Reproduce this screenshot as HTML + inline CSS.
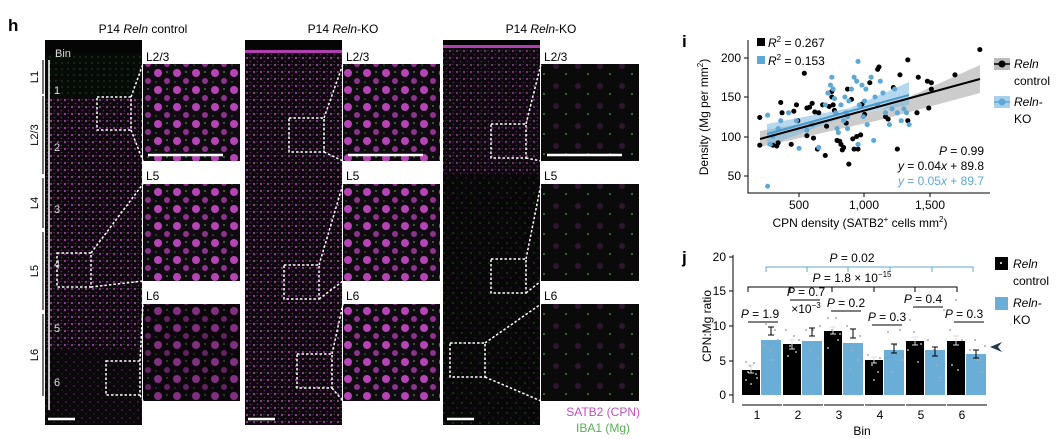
<!DOCTYPE html>
<html><head><meta charset="utf-8"><style>
html,body{margin:0;padding:0;background:#fff;}
svg{display:block;font-family:"Liberation Sans",sans-serif;}
</style></head><body>
<svg width="1058" height="439" viewBox="0 0 1058 439" xmlns="http://www.w3.org/2000/svg">
<defs>
<pattern id="pb" width="7" height="7" patternUnits="userSpaceOnUse">
<rect width="7" height="7" fill="#0e080e"/>
<circle cx="2" cy="2" r="1.1" fill="#a03ca0"/>
<circle cx="5.5" cy="5.5" r="0.8" fill="#702c70"/>
<circle cx="5" cy="1.5" r="0.5" fill="#3c8c3c"/>
</pattern>
<pattern id="pbd" width="8" height="8" patternUnits="userSpaceOnUse">
<rect width="8" height="8" fill="#0a080a"/>
<circle cx="2" cy="2" r="0.9" fill="#5a245a"/>
<circle cx="6" cy="6" r="0.5" fill="#3a7a3a"/>
</pattern>
<pattern id="pk" width="9" height="10" patternUnits="userSpaceOnUse">
<rect width="9" height="10" fill="#080808"/>
<circle cx="3" cy="3" r="0.6" fill="#3a8a3a"/>
<circle cx="7" cy="8" r="0.7" fill="#4a224a"/>
</pattern>
<pattern id="pg" width="6" height="6" patternUnits="userSpaceOnUse">
<rect width="6" height="6" fill="#070b07"/>
<circle cx="2" cy="3" r="0.6" fill="#2f6f2f"/>
</pattern>
<pattern id="pi" width="19" height="17" patternUnits="userSpaceOnUse">
<rect width="19" height="17" fill="#120a12"/>
<circle cx="6" cy="5" r="4" fill="#b544b5"/>
<circle cx="15" cy="13" r="3" fill="#8a348a"/>
<circle cx="15" cy="4" r="0.9" fill="#3a9a3a"/>
<circle cx="4" cy="14" r="0.8" fill="#2f7f2f"/>
</pattern>
<pattern id="pik" width="22" height="20" patternUnits="userSpaceOnUse">
<rect width="22" height="20" fill="#0a0a0a"/>
<circle cx="6" cy="6" r="3" fill="#2e162e"/>
<circle cx="16" cy="14" r="1" fill="#3a8a3a"/>
</pattern>
</defs>

<text x="8" y="31" font-size="17" font-weight="bold">h</text>
<text x="143" y="33" font-size="12" text-anchor="middle">P14 <tspan font-style="italic">Reln</tspan> control</text>
<text x="343" y="33" font-size="12" text-anchor="middle">P14 <tspan font-style="italic">Reln</tspan>-KO</text>
<text x="541" y="33" font-size="12" text-anchor="middle">P14 <tspan font-style="italic">Reln</tspan>-KO</text>

<rect x="45" y="40" width="97" height="385" fill="url(#pb)"/>
<rect x="45" y="40" width="97" height="58" fill="url(#pg)"/>
<rect x="45" y="40" width="97" height="14" fill="#050505"/>
<rect x="45" y="350" width="97" height="75" fill="url(#pbd)"/>
<rect x="245" y="40" width="97" height="385" fill="url(#pb)"/>
<rect x="245" y="40" width="97" height="10" fill="#050505"/>
<rect x="245" y="50" width="97" height="3" fill="#b040b0"/>
<rect x="443" y="40" width="97" height="385" fill="url(#pk)"/>
<rect x="443" y="40" width="97" height="135" fill="url(#pb)" opacity="0.8"/>
<rect x="443" y="40" width="97" height="5" fill="#050505"/>
<rect x="443" y="45" width="97" height="3" fill="#b040b0"/>

<g font-size="12">
<text x="146" y="61">L2/3</text><text x="146" y="180">L5</text><text x="146" y="300">L6</text>
<text x="346" y="61">L2/3</text><text x="346" y="180">L5</text><text x="346" y="300">L6</text>
<text x="544" y="61">L2/3</text><text x="544" y="180">L5</text><text x="544" y="300">L6</text>
</g>
<rect x="143" y="64" width="97" height="97" fill="url(#pi)"/>
<rect x="143" y="184" width="97" height="97" fill="url(#pi)"/>
<rect x="143" y="304" width="97" height="97" fill="#000"/>
<rect x="143" y="304" width="97" height="97" fill="url(#pi)" opacity="0.7"/>
<rect x="343" y="64" width="97" height="97" fill="url(#pi)"/>
<rect x="343" y="184" width="97" height="97" fill="url(#pi)"/>
<rect x="343" y="304" width="97" height="97" fill="url(#pi)"/>
<rect x="541" y="64" width="98" height="97" fill="url(#pik)"/>
<rect x="541" y="184" width="98" height="97" fill="url(#pik)"/>
<rect x="541" y="304" width="98" height="97" fill="url(#pik)"/>
<g stroke="#fff" stroke-width="2.5">
<line x1="148" y1="155" x2="223" y2="155"/><line x1="348" y1="155" x2="423" y2="155"/><line x1="547" y1="155" x2="622" y2="155"/>
<line x1="48" y1="419" x2="75" y2="419"/><line x1="248" y1="419" x2="275" y2="419"/><line x1="447" y1="419" x2="474" y2="419"/>
</g>

<g fill="none" stroke="#fff" stroke-width="1.5" stroke-dasharray="2.5,2">
<rect x="97" y="97" width="34" height="33"/><path d="M131 97 L143 64 M131 130 L143 161"/>
<rect x="57" y="253" width="34" height="34"/><path d="M91 253 L143 184 M91 287 L143 281"/>
<rect x="106" y="361" width="34" height="34"/><path d="M140 361 L143 304 M140 395 L143 401"/>
<rect x="289" y="118" width="35" height="34"/><path d="M324 118 L343 64 M324 152 L343 161"/>
<rect x="284" y="265" width="35" height="34"/><path d="M319 265 L343 184 M319 299 L343 281"/>
<rect x="297" y="354" width="35" height="34"/><path d="M332 354 L343 304 M332 388 L343 401"/>
<rect x="491" y="124" width="35" height="34"/><path d="M526 124 L541 64 M526 158 L541 161"/>
<rect x="491" y="259" width="35" height="34"/><path d="M526 259 L541 184 M526 293 L541 281"/>
<rect x="450" y="343" width="35" height="34"/><path d="M485 343 L541 304 M485 377 L541 401"/>
</g>

<g stroke="#444" stroke-width="1.5">
<line x1="43" y1="60" x2="43" y2="94"/><line x1="43" y1="96" x2="43" y2="174"/>
<line x1="43" y1="178" x2="43" y2="228"/><line x1="43" y1="232" x2="43" y2="310"/>
<line x1="43" y1="314" x2="43" y2="396"/>
</g>
<line x1="49" y1="60" x2="49" y2="410" stroke="#fff" stroke-width="1.5"/>
<g font-size="11">
<text transform="translate(38,77) rotate(-90)" text-anchor="middle">L1</text>
<text transform="translate(38,135) rotate(-90)" text-anchor="middle">L2/3</text>
<text transform="translate(38,203) rotate(-90)" text-anchor="middle">L4</text>
<text transform="translate(38,271) rotate(-90)" text-anchor="middle">L5</text>
<text transform="translate(38,355) rotate(-90)" text-anchor="middle">L6</text>
</g>
<g font-size="11" fill="#ddd">
<text x="55" y="57">Bin</text>
<text x="54" y="94">1</text><text x="54" y="151">2</text><text x="54" y="213">3</text>
<text x="54" y="268">4</text><text x="54" y="332">5</text><text x="54" y="386">6</text>
</g>
<text x="640" y="416" font-size="12" fill="#c050c0" text-anchor="end">SATB2 (CPN)</text>
<text x="630" y="432" font-size="12" fill="#55b055" text-anchor="end">IBA1 (Mg)</text>

<text x="682" y="47" font-size="17" font-weight="bold">i</text>
<polygon points="760,131 880,110 980,65 980,93 880,120 760,147" fill="#bbb" opacity="0.75"/>
<polygon points="767,124 850,108 909,82 909,105 850,115 767,146" fill="#7ab8e0" opacity="0.55"/>
<g transform="translate(733.5,215.5) scale(0.131,-0.79)">
<path fill="none" stroke="#000" stroke-width="5" stroke-linecap="round" vector-effect="non-scaling-stroke" d="M200 89h1M200 124h1M300 89h1M330 88h1M340 92h1M360 143h1M370 130h1M440 90h1M460 132h1M480 140h1M490 120h1M540 180h1M560 136h1M560 101h1M580 137h1M600 142h1M610 98h1M620 131h1M640 84h1M650 130h1M680 140h1M700 76h1M710 113h1M730 138h1M750 157h1M750 150h1M760 140h1M770 133h1M790 95h1M810 94h1M820 90h1M830 83h1M840 86h1M860 117h1M870 160h1M880 65h1M900 147h1M910 97h1M920 84h1M940 100h1M950 84h1M970 102h1M980 141h1M1000 128h1M1040 168h1M1100 185h1M1110 188h1M1160 125h1M1180 122h1M1220 162h1M1250 84h1M1270 178h1M1330 197h1M1330 120h1M1400 130h1M1410 175h1M1480 170h1M1490 136h1M1510 168h1M1510 160h1M1690 178h1M1880 210h1"/>
<path fill="none" stroke="#5ea8d6" stroke-width="5" stroke-linecap="round" vector-effect="non-scaling-stroke" d="M260 127h1M260 37h1M280 90h1M300 100h1M340 110h1M360 120h1M420 130h1M480 120h1M500 85h1M560 108h1M600 115h1M650 86h1M700 140h1M720 155h1M740 165h1M750 175h1M760 160h1M770 148h1M780 130h1M790 110h1M800 105h1M820 140h1M840 120h1M850 150h1M860 130h1M870 125h1M880 145h1M900 160h1M920 175h1M940 170h1M950 195h1M960 140h1M980 165h1M990 125h1M1000 145h1M1010 160h1M1020 115h1M1050 175h1M1070 95h1M1080 150h1M1100 140h1M1120 170h1M1140 155h1M1160 130h1M1190 115h1M1210 135h1M1230 160h1M1250 130h1M1280 120h1M1300 135h1M1320 130h1M1340 115h1M950 90h1M870 110h1"/>
</g>
<line x1="760" y1="139" x2="980" y2="79" stroke="#000" stroke-width="2"/>
<line x1="767" y1="134" x2="909" y2="95" stroke="#4a98cc" stroke-width="2"/>
<g stroke="#000" stroke-width="1" fill="none"><path d="M748 40V193H990M748 58h-4M748 97h-4M748 137h-4M748 176h-4M799 193v4M864 193v4M930 193v4"/></g>
<g font-size="12" text-anchor="end"><text x="741" y="62">200</text><text x="741" y="101">150</text><text x="741" y="141">100</text><text x="741" y="180">50</text></g>
<g font-size="12" text-anchor="middle"><text x="799" y="209">500</text><text x="864" y="209">1,000</text><text x="930" y="209">1,500</text>
<text x="860" y="227">CPN density (SATB2<tspan font-size="8" dy="-5">+</tspan><tspan dy="5"> cells mm</tspan><tspan font-size="8" dy="-5">2</tspan><tspan dy="5">)</tspan></text>
<text transform="translate(708,117) rotate(-90)">Density (Mg per mm<tspan font-size="8" dy="-5">2</tspan><tspan dy="5">)</tspan></text></g>
<rect x="757" y="38" width="8" height="8"/><rect x="757" y="56" width="8" height="8" fill="#5ea8d6"/>
<g font-size="12"><text x="768" y="47"><tspan font-style="italic">R</tspan><tspan font-size="8" dy="-5">2</tspan><tspan dy="5"> = 0.267</tspan></text>
<text x="768" y="65"><tspan font-style="italic">R</tspan><tspan font-size="8" dy="-5">2</tspan><tspan dy="5"> = 0.153</tspan></text></g>
<g font-size="12" text-anchor="end"><text x="984" y="155"><tspan font-style="italic">P</tspan> = 0.99</text>
<text x="984" y="170"><tspan font-style="italic">y</tspan> = 0.04<tspan font-style="italic">x</tspan> + 89.8</text>
<text x="984" y="185" fill="#5ea8d6"><tspan font-style="italic">y</tspan> = 0.05<tspan font-style="italic">x</tspan> + 89.7</text></g>
<rect x="994" y="58" width="16" height="12" fill="#bbb"/><line x1="994" y1="64" x2="1010" y2="64" stroke="#000" stroke-width="1.5"/><circle cx="1002" cy="64" r="3.5"/>
<rect x="994" y="96" width="16" height="12" fill="#a8d0ec"/><line x1="994" y1="102" x2="1010" y2="102" stroke="#5ea8d6" stroke-width="1.5"/><circle cx="1002" cy="102" r="3.5" fill="#5ea8d6"/>
<g font-size="12"><text x="1014" y="68" font-style="italic">Reln</text><text x="1014" y="85">control</text>
<text x="1014" y="106" font-style="italic">Reln-</text><text x="1014" y="123">KO</text></g>

<text x="682" y="263" font-size="17" font-weight="bold">j</text>
<g fill="#000"><rect x="742" y="370" width="18" height="25"/><rect x="783" y="344" width="18" height="51"/><rect x="824" y="331" width="18" height="64"/><rect x="865" y="360" width="18" height="35"/><rect x="906" y="341" width="18" height="54"/><rect x="947" y="341" width="18" height="54"/></g>
<g fill="#6aaed8"><rect x="761" y="340" width="20" height="55"/><rect x="802" y="341" width="20" height="54"/><rect x="843" y="343" width="20" height="52"/><rect x="884" y="350" width="20" height="45"/><rect x="925" y="350" width="20" height="45"/><rect x="966" y="354" width="20" height="41"/></g>
<g fill="#aaa">
<circle cx="746" cy="362" r="1"/><circle cx="750" cy="366" r="1"/><circle cx="754" cy="363" r="1"/><circle cx="746" cy="380" r="1"/><circle cx="751" cy="384" r="1"/><circle cx="756" cy="374" r="1"/><circle cx="748" cy="372" r="1"/><circle cx="757" cy="378" r="1"/>
<circle cx="766" cy="324" r="1"/><circle cx="775" cy="330" r="1"/><circle cx="770" cy="350" r="1"/><circle cx="764" cy="345" r="1"/><circle cx="778" cy="340" r="1"/><circle cx="772" cy="360" r="1"/>
<circle cx="786" cy="330" r="1"/><circle cx="790" cy="346" r="1"/><circle cx="796" cy="352" r="1"/><circle cx="799" cy="340" r="1"/><circle cx="788" cy="356" r="1"/><circle cx="794" cy="336" r="1"/>
<circle cx="806" cy="330" r="1"/><circle cx="813" cy="330" r="1"/><circle cx="818" cy="358" r="1"/><circle cx="810" cy="350" r="1"/><circle cx="820" cy="326" r="1"/>
<circle cx="828" cy="318" r="1"/><circle cx="832" cy="330" r="1"/><circle cx="838" cy="340" r="1"/><circle cx="836" cy="318" r="1"/><circle cx="828" cy="348" r="1"/><circle cx="840" cy="334" r="1"/>
<circle cx="847" cy="326" r="1"/><circle cx="852" cy="350" r="1"/><circle cx="858" cy="360" r="1"/><circle cx="860" cy="336" r="1"/><circle cx="850" cy="370" r="1"/>
<circle cx="868" cy="355" r="1"/><circle cx="872" cy="365" r="1"/><circle cx="878" cy="372" r="1"/><circle cx="874" cy="380" r="1"/><circle cx="880" cy="358" r="1"/>
<circle cx="888" cy="332" r="1"/><circle cx="896" cy="345" r="1"/><circle cx="900" cy="330" r="1"/><circle cx="892" cy="372" r="1"/><circle cx="902" cy="360" r="1"/>
<circle cx="910" cy="320" r="1"/><circle cx="914" cy="332" r="1"/><circle cx="918" cy="362" r="1"/><circle cx="921" cy="344" r="1"/><circle cx="908" cy="350" r="1"/>
<circle cx="928" cy="340" r="1"/><circle cx="934" cy="350" r="1"/><circle cx="940" cy="378" r="1"/><circle cx="944" cy="310" r="1"/><circle cx="937" cy="365" r="1"/>
<circle cx="950" cy="330" r="1"/><circle cx="956" cy="300" r="1"/><circle cx="958" cy="370" r="1"/><circle cx="952" cy="365" r="1"/><circle cx="962" cy="340" r="1"/>
<circle cx="970" cy="350" r="1"/><circle cx="975" cy="340" r="1"/><circle cx="982" cy="372" r="1"/><circle cx="985" cy="346" r="1"/><circle cx="978" cy="360" r="1"/></g>
<g stroke="#000" stroke-width="1" fill="none">
<path d="M733 255V403M733 257h-4M733 291h-4M733 326h-4M733 361h-4M733 395h-4"/>
<path d="M742 405h40M783 405h40M824 405h40M865 405h40M906 405h40M947 405h40"/>
<path d="M748 292V287H957V292M790 287v5M832 287v5M874 287v5M915 287v5"/>
<path d="M748 322h30M790 300h30M831 311h30M872 325h30M913 307h30M954 322h30"/>
<path d="M771 335v-8M812 336v-8M853 338v-9M894 353v-9M935 356v-9M976 358v-8M768 335h6M768 327h6M809 336h6M809 328h6M850 338h6M850 329h6M891 353h6M891 344h6M932 356h6M932 347h6M973 358h6M973 350h6"/>
</g>
<g stroke="#ddd" stroke-width="1" fill="none">
<path d="M751 373v-8M792 349v-9M833 334v-7M874 363v-6M915 345v-8M956 345v-9M748 373h6M748 365h6M789 349h6M789 340h6M830 334h6M830 327h6M871 363h6M871 357h6M912 345h6M912 337h6M953 345h6M953 336h6"/>
</g>
<path d="M766 272V267H973V272M807 267v5M848 267v5M890 267v5M932 267v5" stroke="#5ea8d6" fill="none" stroke-width="1"/>
<g font-size="12" text-anchor="end"><text x="726" y="261">20</text><text x="726" y="295">15</text><text x="726" y="330">10</text><text x="726" y="365">5</text><text x="726" y="399">0</text></g>
<g font-size="12" text-anchor="middle"><text x="757" y="419">1</text><text x="798" y="419">2</text><text x="839" y="419">3</text><text x="880" y="419">4</text><text x="921" y="419">5</text><text x="962" y="419">6</text><text x="862" y="435">Bin</text>
<text transform="translate(711,326) rotate(-90)">CPN:Mg ratio</text>
<text x="852" y="262"><tspan font-style="italic">P</tspan> = 0.02</text>
<text x="852" y="282"><tspan font-style="italic">P</tspan> = 1.8 × 10<tspan font-size="8" dy="-5">−15</tspan></text>
<text x="760" y="318"><tspan font-style="italic">P</tspan> = 1.9</text>
<text x="806" y="296"><tspan font-style="italic">P</tspan> = 0.7</text>
<text x="806" y="313">×10<tspan font-size="8" dy="-5">−3</tspan></text>
<text x="846" y="307"><tspan font-style="italic">P</tspan> = 0.2</text>
<text x="887" y="321"><tspan font-style="italic">P</tspan> = 0.3</text>
<text x="923" y="303"><tspan font-style="italic">P</tspan> = 0.4</text>
<text x="964" y="318"><tspan font-style="italic">P</tspan> = 0.3</text></g>
<rect x="995" y="257" width="13" height="13"/><circle cx="1001" cy="263" r="1" fill="#fff"/>
<rect x="995" y="297" width="13" height="13" fill="#6aaed8"/>
<g font-size="12"><text x="1013" y="268" font-style="italic">Reln</text><text x="1013" y="285">control</text>
<text x="1013" y="307" font-style="italic">Reln-</text><text x="1013" y="324">KO</text></g>
<polygon points="990,347 1002,342 998,347 1002,352" fill="#233a4a"/>
</svg>
</body></html>
